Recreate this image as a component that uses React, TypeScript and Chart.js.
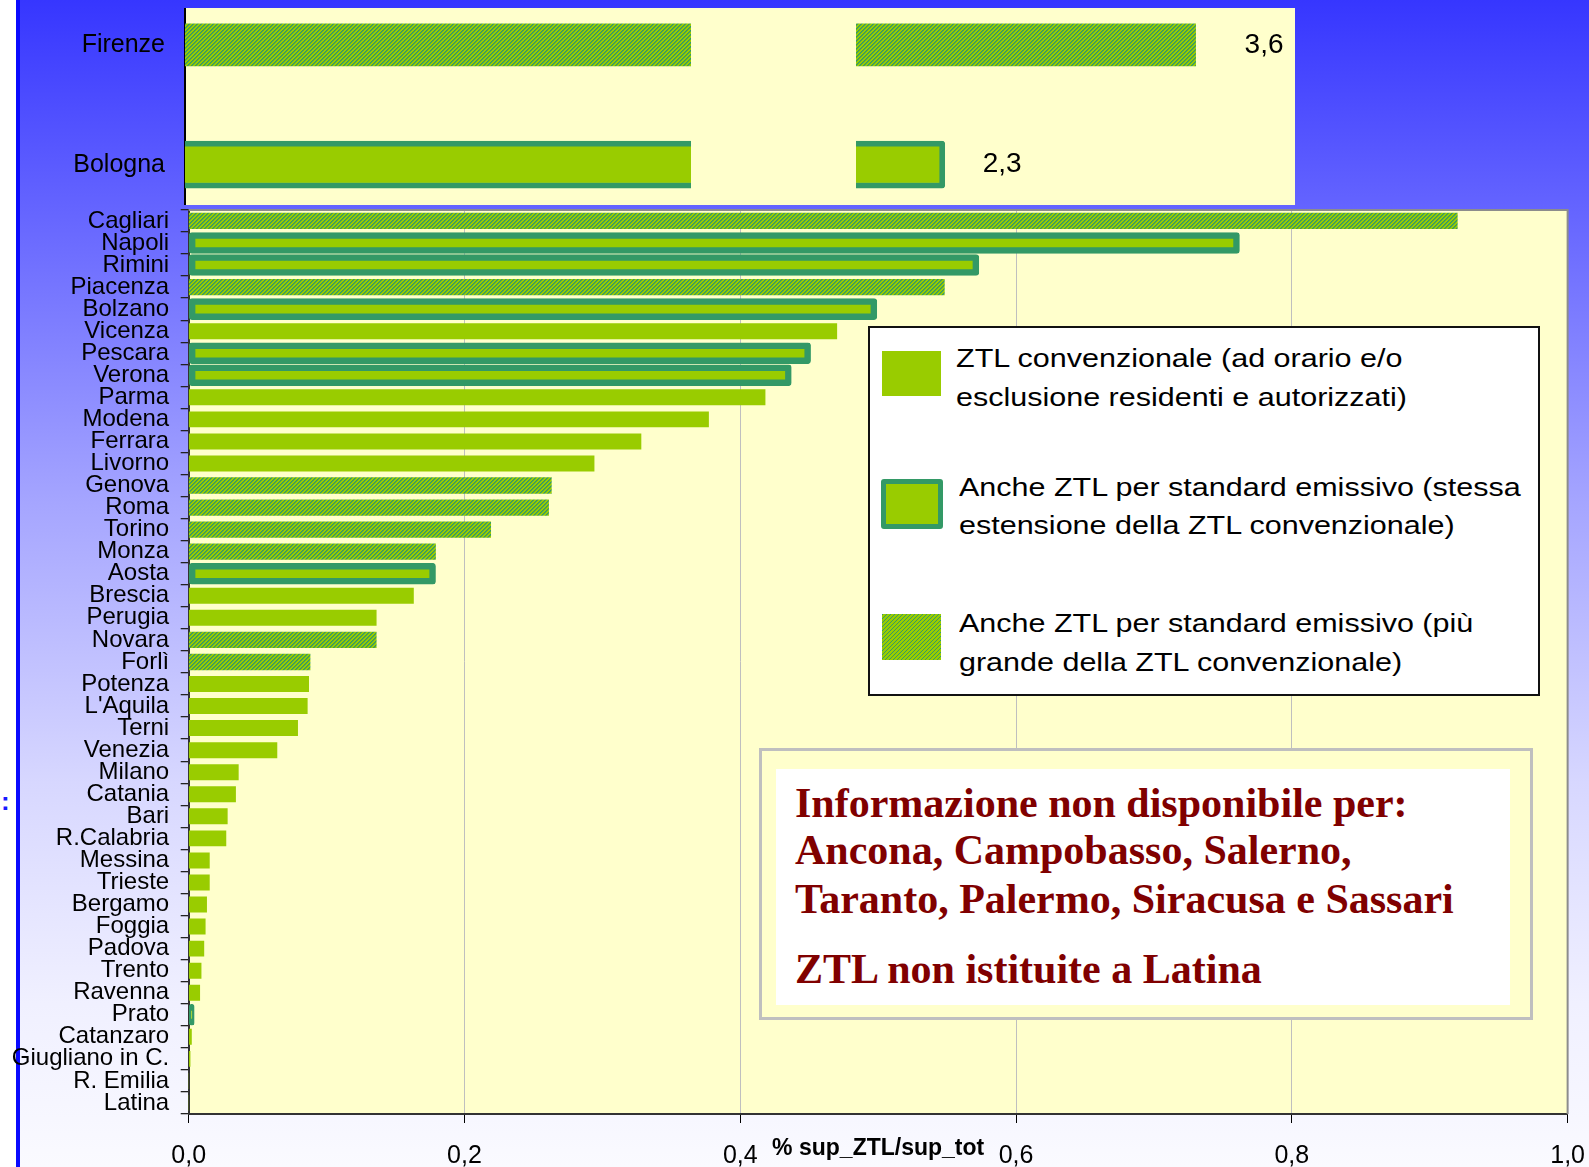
import React, { useEffect, useRef } from 'react';
import { Chart, registerables } from 'chart.js';

Chart.register(...registerables);

// ---------- DATA ----------
const cities = [
  'Cagliari', 'Napoli', 'Rimini', 'Piacenza', 'Bolzano', 'Vicenza', 'Pescara', 'Verona', 'Parma', 'Modena',
  'Ferrara', 'Livorno', 'Genova', 'Roma', 'Torino', 'Monza', 'Aosta', 'Brescia', 'Perugia', 'Novara',
  'Forlì', 'Potenza', "L'Aquila", 'Terni', 'Venezia', 'Milano', 'Catania', 'Bari', 'R.Calabria', 'Messina',
  'Trieste', 'Bergamo', 'Foggia', 'Padova', 'Trento', 'Ravenna', 'Prato', 'Catanzaro', 'Giugliano in C.', 'R. Emilia',
  'Latina',
];
const shares = [
  0.920, 0.762, 0.573, 0.548, 0.499, 0.470, 0.451, 0.437, 0.418, 0.377,
  0.328, 0.294, 0.263, 0.261, 0.219, 0.179, 0.179, 0.163, 0.136, 0.136,
  0.088, 0.087, 0.086, 0.079, 0.064, 0.036, 0.034, 0.028, 0.027, 0.015,
  0.015, 0.013, 0.012, 0.011, 0.009, 0.008, 0.004, 0.002, 0.001, 0,
  0,
];
// P = ZTL convenzionale, B = anche standard emissivo (stessa estensione), H = anche standard emissivo (più grande)
const ztlKind = [
  'H', 'B', 'B', 'H', 'B', 'P', 'B', 'B', 'P', 'P',
  'P', 'P', 'H', 'H', 'H', 'H', 'B', 'P', 'P', 'H',
  'H', 'P', 'P', 'P', 'P', 'P', 'P', 'P', 'P', 'P',
  'P', 'P', 'P', 'P', 'P', 'P', 'B', 'P', 'P', 'P',
  'P',
];
const insetCities = ['Firenze', 'Bologna'];
const insetShares = [3.6, 2.3];
const insetKind = ['H', 'B'];

const xTickLabels = ['0,0', '0,2', '0,4', '0,6', '0,8', '1,0'];
const axisTitle = '% sup_ZTL/sup_tot';
const kinds = ['P', 'B', 'H'];
const legendLines: Record<string, string[]> = {
  P: ['ZTL convenzionale (ad orario e/o', 'esclusione residenti e autorizzati)'],
  B: ['Anche ZTL per standard emissivo (stessa', 'estensione della ZTL convenzionale)'],
  H: ['Anche ZTL per standard emissivo (più', 'grande della ZTL convenzionale)'],
};
const noteLines = [
  'Informazione non disponibile per:',
  'Ancona, Campobasso, Salerno,',
  'Taranto, Palermo, Siracusa e Sassari',
  'ZTL non istituite a Latina',
];

// ---------- STYLE ----------
const LIME = '#99CC00';
const DARK = '#339966';
const PLOT_BG = '#FFFFCC';
const SANS = '"Liberation Sans", Arial, sans-serif';

function makeHatch(): CanvasPattern | string {
  const c = document.createElement('canvas');
  c.width = 4;
  c.height = 4;
  const g = c.getContext('2d');
  if (!g) return LIME;
  const img = g.createImageData(4, 4);
  for (let y = 0; y < 4; y++) {
    for (let x = 0; x < 4; x++) {
      const m = (x + y) % 4;
      const o = (y * 4 + x) * 4;
      let r = 0x99, gg = 0xcc, b = 0x00;
      if (m === 0) { r = 0x33; gg = 0x99; b = 0x66; }
      else if (m === 1) { r = 0x55; gg = 0xa8; b = 0x44; }
      img.data[o] = r;
      img.data[o + 1] = gg;
      img.data[o + 2] = b;
      img.data[o + 3] = 255;
    }
  }
  g.putImageData(img, 0, 0);
  return g.createPattern(c, 'repeat') || LIME;
}

function fmt(v: number) {
  return v.toFixed(1).replace('.', ',');
}

export default function App() {
  const mainRef = useRef<HTMLCanvasElement>(null);
  const leftRef = useRef<HTMLCanvasElement>(null);
  const rightRef = useRef<HTMLCanvasElement>(null);

  useEffect(() => {
    const hatch = makeHatch();
    const styleFor = (k: string, inset: boolean) => {
      if (k === 'B') {
        return {
          backgroundColor: LIME,
          borderColor: DARK,
          borderWidth: inset ? 5.7 : 6.5,
          borderRadius: 3,
          borderSkipped: inset ? 'start' : false,
          barThickness: inset ? 47 : 21,
        };
      }
      if (k === 'H') {
        return { backgroundColor: hatch, borderWidth: 0, barThickness: inset ? 42 : 15.7 };
      }
      return { backgroundColor: LIME, borderWidth: 0, barThickness: inset ? 42 : 15.3 };
    };

    const plotFrame = {
      id: 'plotFrame',
      beforeDraw(chart: any) {
        const { ctx, chartArea: a } = chart;
        ctx.save();
        ctx.fillStyle = PLOT_BG;
        ctx.fillRect(a.left, a.top, a.right - a.left, a.bottom - a.top);
        ctx.restore();
      },
      afterDraw(chart: any) {
        const { ctx, chartArea: a } = chart;
        ctx.save();
        ctx.strokeStyle = '#8c8c8c';
        ctx.lineWidth = 2;
        ctx.beginPath();
        ctx.moveTo(a.left, a.top);
        ctx.lineTo(a.right, a.top);
        ctx.lineTo(a.right, a.bottom);
        ctx.stroke();
        ctx.font = 'bold 23px ' + SANS;
        ctx.fillStyle = '#000';
        ctx.textAlign = 'center';
        ctx.textBaseline = 'middle';
        ctx.fillText(axisTitle, (a.left + a.right) / 2, a.bottom + 35);
        ctx.restore();
      },
    };

    const main = new Chart(mainRef.current as HTMLCanvasElement, {
      type: 'bar',
      data: {
        labels: cities,
        datasets: kinds.map((k) => ({
          data: shares.map((v, i) => (ztlKind[i] === k ? v : null)),
          grouped: false,
          ...styleFor(k, false),
        })) as any,
      },
      options: {
        indexAxis: 'y',
        responsive: false,
        maintainAspectRatio: false,
        animation: false,
        layout: { padding: { top: 0, right: 0, left: 0, bottom: 0 } },
        plugins: { legend: { display: false }, tooltip: { enabled: false } },
        scales: {
          x: {
            min: 0,
            max: 1,
            ticks: {
              stepSize: 0.2,
              color: '#000',
              font: { family: SANS, size: 25 },
              padding: 18,
              maxRotation: 0,
              callback: (_v: any, i: number) => xTickLabels[i],
            },
            grid: { color: '#BFBFBF', lineWidth: 1, tickColor: '#000', tickLength: 9 },
            border: { color: '#333', width: 2 },
            afterFit: (s: any) => {
              s.height = 53;
            },
          },
          y: {
            ticks: {
              autoSkip: false,
              color: '#000',
              font: { family: SANS, size: 24 },
              padding: 11.5,
            },
            grid: { drawOnChartArea: false, offset: true, tickColor: '#222', tickLength: 8, lineWidth: 1.3 },
            border: { color: '#333', width: 2 },
            afterFit: (s: any) => {
              s.width = 188.7;
            },
          },
        },
      } as any,
      plugins: [plotFrame],
    });

    const insetDatasets = () =>
      kinds.map((k) => ({
        data: insetShares.map((v, i) => (insetKind[i] === k ? v : null)),
        grouped: false,
        clip: { left: 0, right: 0, top: 40, bottom: 40 },
        ...styleFor(k, true),
      })) as any;

    const left = new Chart(leftRef.current as HTMLCanvasElement, {
      type: 'bar',
      data: { labels: insetCities, datasets: insetDatasets() },
      options: {
        indexAxis: 'y',
        responsive: false,
        maintainAspectRatio: false,
        animation: false,
        layout: { padding: { top: 44.8, bottom: 45.3, left: 0, right: 0 } },
        plugins: { legend: { display: false }, tooltip: { enabled: false } },
        scales: {
          x: { display: false, min: 0, max: 0.6 },
          y: {
            offset: false,
            grid: { display: false, drawTicks: false },
            border: { display: false },
            ticks: { color: '#000', font: { family: SANS, size: 25 }, padding: 20 },
            afterFit: (s: any) => {
              s.width = 185;
            },
          },
        },
      } as any,
    });

    const labelGap: Record<string, number> = { H: 49, B: 38, P: 40 };
    const valueLabels = {
      id: 'valueLabels',
      afterDatasetsDraw(chart: any) {
        const ctx = chart.ctx;
        ctx.save();
        ctx.font = '28px ' + SANS;
        ctx.fillStyle = '#000';
        ctx.textBaseline = 'middle';
        ctx.textAlign = 'left';
        chart.data.datasets.forEach((ds: any, di: number) => {
          const meta = chart.getDatasetMeta(di);
          meta.data.forEach((el: any, i: number) => {
            const v = ds.data[i];
            if (v == null) return;
            ctx.fillText(fmt(v), el.x + labelGap[kinds[di]], el.y);
          });
        });
        ctx.restore();
      },
    };

    const right = new Chart(rightRef.current as HTMLCanvasElement, {
      type: 'bar',
      data: { labels: insetCities, datasets: insetDatasets() },
      options: {
        indexAxis: 'y',
        responsive: false,
        maintainAspectRatio: false,
        animation: false,
        layout: { padding: { top: 44.8, bottom: 45.3, left: 0, right: 0 } },
        plugins: { legend: { display: false }, tooltip: { enabled: false } },
        scales: {
          x: { display: false, min: 1.84, max: 4.115 },
          y: { display: false, offset: false },
        },
      } as any,
      plugins: [valueLabels],
    });

    return () => {
      main.destroy();
      left.destroy();
      right.destroy();
    };
  }, []);

  const abs = (l: number, t: number, w: number, h: number): React.CSSProperties => ({
    position: 'absolute',
    left: l,
    top: t,
    width: w,
    height: h,
    boxSizing: 'border-box',
  });

  const swatch = (k: string, l: number, t: number, w: number, h: number) => {
    const st: React.CSSProperties = abs(l, t, w, h);
    if (k === 'P') st.background = LIME;
    if (k === 'B') {
      st.background = LIME;
      st.border = '5px solid ' + DARK;
      st.borderRadius = 3;
    }
    if (k === 'H')
      st.background = `repeating-linear-gradient(135deg, ${DARK} 0px, ${DARK} 1.2px, ${LIME} 1.2px, ${LIME} 2.83px)`;
    return <div key={'sw' + k} style={st} />;
  };

  const legendPos: Record<string, { sw: number[]; x: number; base: number[] }> = {
    P: { sw: [882, 351, 59, 45], x: 955.8, base: [367.3, 406] },
    B: { sw: [881, 479, 62, 50], x: 958.5, base: [495.7, 534] },
    H: { sw: [882, 614, 59, 46], x: 958.5, base: [631.7, 670.7] },
  };
  const noteBase = [816.7, 864.3, 912.7, 983.3];

  return (
    <div style={{ position: 'absolute', left: 0, top: 0, width: 1589, height: 1167, overflow: 'hidden', background: '#fff' }}>
      <div
        style={{
          ...abs(19, 0, 1570, 1167),
          background:
            'linear-gradient(to bottom, rgb(54,54,255) 0%, rgb(98,98,255) 17%, rgb(165,165,255) 43%, rgb(215,215,255) 67%, rgb(240,240,255) 86%, rgb(250,250,255) 100%)',
        }}
      />
      <div style={{ ...abs(16, 0, 3.5, 1167), background: '#0A0AFF' }} />
      <div style={{ position: 'absolute', left: 1, top: 786, fontFamily: SANS, fontSize: 26, fontWeight: 'bold', color: '#1a1aff' }}>:</div>
      <div style={{ ...abs(184, 8, 1111, 197), background: PLOT_BG, borderLeft: '2px solid #000' }} />

      <canvas ref={mainRef} width={1603} height={983} style={{ position: 'absolute', left: 0, top: 184, display: 'block' }} />
      <canvas ref={leftRef} width={691} height={210} style={{ position: 'absolute', left: 0, top: 0, display: 'block' }} />
      <canvas ref={rightRef} width={439} height={210} style={{ position: 'absolute', left: 856, top: 0, display: 'block' }} />

      <div style={{ ...abs(868, 326, 672, 370), background: '#fff', border: '2px solid #111' }} />
      {kinds.map((k) => {
        const p = legendPos[k];
        return (
          <React.Fragment key={k}>
            {swatch(k, p.sw[0], p.sw[1], p.sw[2], p.sw[3])}
            {legendLines[k].map((line, j) => (
              <div
                key={j}
                style={{
                  position: 'absolute',
                  left: p.x,
                  top: p.base[j] - 21.2,
                  fontFamily: SANS,
                  fontSize: 25,
                  lineHeight: '25px',
                  whiteSpace: 'nowrap',
                  color: '#000',
                  transform: 'scaleX(1.22)',
                  transformOrigin: 'left center',
                }}
              >
                {line}
              </div>
            ))}
          </React.Fragment>
        );
      })}

      <div style={{ ...abs(759, 748, 774, 272), background: PLOT_BG, border: '3px solid #BFBFBF' }} />
      <div style={{ ...abs(776, 769, 734, 236), background: '#fff' }} />
      {noteLines.map((line, j) => (
        <div
          key={j}
          style={{
            position: 'absolute',
            left: 795,
            top: noteBase[j] - 35.2,
            fontFamily: '"Liberation Serif", "Times New Roman", serif',
            fontWeight: 'bold',
            fontSize: 42,
            lineHeight: '42px',
            whiteSpace: 'nowrap',
            color: '#800000',
          }}
        >
          {line}
        </div>
      ))}
    </div>
  );
}
